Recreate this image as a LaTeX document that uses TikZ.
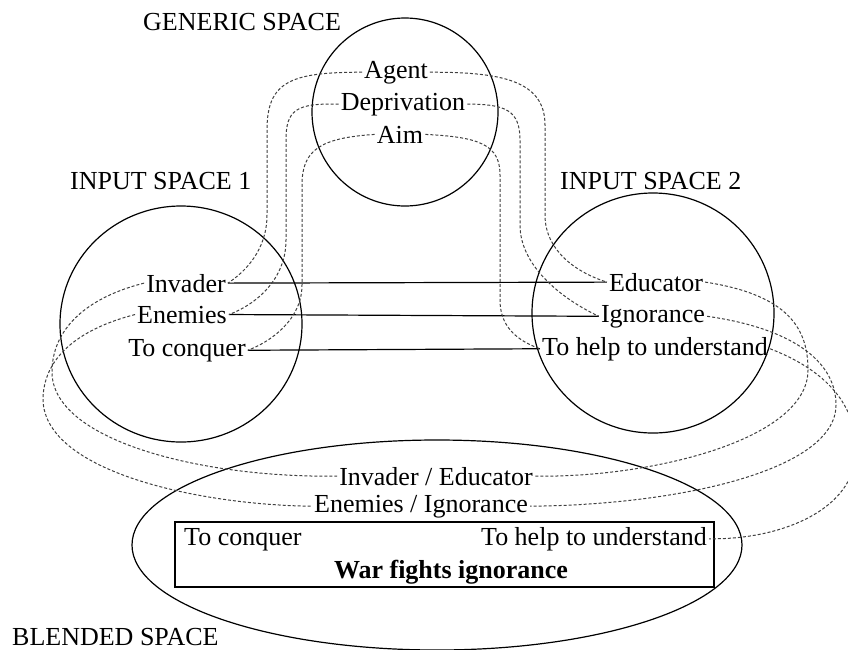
\documentclass[tikz,border=0pt]{standalone}
\usepackage{fontspec}
\setmainfont{Liberation Serif}
\begin{document}
\begin{tikzpicture}[x=1pt,y=-1pt,
  lbl/.style={font=\fontsize{26}{30}\selectfont, inner sep=0pt, anchor=base},
  item/.style={lbl, inner xsep=2pt},
  spaceline/.style={draw=black, line width=1.2pt},
  link/.style={draw=black!75, line width=1pt, dash pattern=on 3pt off 2pt},
  mapline/.style={draw=black, line width=1.2pt}]
\useasboundingbox (0,0) rectangle (848,649);
\clip (0,0) rectangle (848,649);
\fill[white] (0,0) rectangle (848,649);

% mental spaces
\draw[spaceline] (405,112) ellipse [x radius=93pt, y radius=94pt];
\draw[spaceline] (181,324) ellipse [x radius=121pt, y radius=118pt];
\draw[spaceline] (653,313) ellipse [x radius=121pt, y radius=120pt];
\draw[spaceline] (437,545) ellipse [x radius=305pt, y radius=105pt];

% space titles
\node[lbl, anchor=base west] (gentitle) at (143,30) {GENERIC SPACE};
\node[lbl, anchor=base west] (intitle1) at (70,189) {INPUT SPACE 1};
\node[lbl, anchor=base west] (intitle2) at (560,189) {INPUT SPACE 2};
\node[lbl, anchor=base west] (blendtitle) at (12,645) {BLENDED SPACE};

% generic space elements
\node[item] (agent) at (396,78) {Agent};
\node[item] (depriv) at (403,110) {Deprivation};
\node[item] (aim) at (400,143) {Aim};

% input space 1 elements
\node[item] (invader) at (186,292) {Invader};
\node[item] (enemies) at (182,323) {Enemies};
\node[item] (conquer) at (187,356) {To conquer};

% input space 2 elements
\node[item] (educator) at (656,291) {Educator};
\node[item] (ignorance) at (653,322) {Ignorance};
\node[item] (help) at (655,355) {To help to understand};

% blended space elements
\node[item] (invedu) at (436,485) {Invader / Educator};
\node[item] (eneign) at (421,512) {Enemies / Ignorance};
\node[draw, line width=1.2pt, inner sep=0pt, minimum width=539pt, minimum height=65pt] (fusion) at (444.5,554.5) {};
\node[item, anchor=base west] (bconquer) at (182,545) {To conquer};
\node[item, anchor=base east] (bhelp) at (709,545) {To help to understand};
\node[lbl, font=\fontsize{26}{30}\selectfont\bfseries] (war) at (451,578) {War fights ignorance};

% cross-space mappings
\draw[mapline] (invader.east) -- (educator.west);
\draw[mapline] (enemies.east) -- (ignorance.west);
\draw[mapline] (conquer.east) -- (help.west);

% generic space to input space 1
\draw[link] (agent.west) .. controls (290,72) and (267,82) .. (267,130)
  -- (267,215) .. controls (267,250) and (245,272) .. (invader.east);
\draw[link] (depriv.west) .. controls (296,103) and (286,110) .. (286,140)
  -- (286,240) .. controls (286,280) and (255,305) .. (enemies.east);
\draw[link] (aim.west) .. controls (320,138) and (302,150) .. (302,185)
  -- (302,285) .. controls (302,320) and (270,342) .. (conquer.east);

% generic space to input space 2
\draw[link] (agent.east) .. controls (500,72) and (545,80) .. (545,125)
  -- (545,215) .. controls (545,250) and (575,272) .. (educator.west);
\draw[link] (depriv.east) .. controls (505,104) and (520,110) .. (520,140)
  -- (520,225) .. controls (520,265) and (560,298) .. (ignorance.west);
\draw[link] (aim.east) .. controls (480,137) and (500,145) .. (500,175)
  -- (500,300) .. controls (500,325) and (515,340) .. (help.west);

% input space 1 to blended space
\draw[link] (invader.west) .. controls (85,298) and (52,330) .. (52,372)
  .. controls (52,440) and (200,478) .. (invedu.west);
\draw[link] (enemies.west) .. controls (75,330) and (43,360) .. (43,400)
  .. controls (45,472) and (200,505) .. (eneign.west);

% input space 2 to blended space
\draw[link] (educator.east) .. controls (790,295) and (808,330) .. (808,370)
  .. controls (808,440) and (650,478) .. (invedu.east);
\draw[link] (ignorance.east) .. controls (790,328) and (836,360) .. (836,405)
  .. controls (836,470) and (680,505) .. (eneign.east);
\draw[link] (help.east) .. controls (820,368) and (856,400) .. (856,450)
  .. controls (856,510) and (780,540) .. (bhelp.east);
\end{tikzpicture}
\end{document}
